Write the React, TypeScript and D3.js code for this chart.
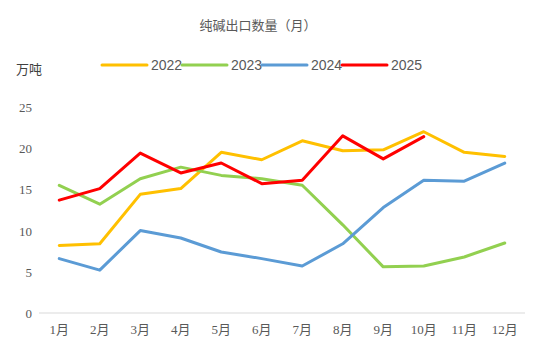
import React from "react";
import * as d3 from "d3";

const months = ["1月", "2月", "3月", "4月", "5月", "6月", "7月", "8月", "9月", "10月", "11月", "12月"];
const s2022 = [8.2, 8.4, 14.4, 15.1, 19.5, 18.6, 20.9, 19.7, 19.8, 22.0, 19.5, 19.0];
const s2023 = [15.5, 13.2, 16.3, 17.7, 16.7, 16.3, 15.5, 10.7, 5.6, 5.7, 6.8, 8.5];
const s2024 = [6.6, 5.2, 10.0, 9.1, 7.4, 6.6, 5.7, 8.4, 12.8, 16.1, 16.0, 18.2];
const s2025 = [13.7, 15.1, 19.4, 17.0, 18.2, 15.7, 16.1, 21.5, 18.7, 21.4];
const yTicks = [0, 5, 10, 15, 20, 25];

const series = [
  { name: "2022", values: s2022, color: "#FFC000" },
  { name: "2023", values: s2023, color: "#92D050" },
  { name: "2024", values: s2024, color: "#5B9BD5" },
  { name: "2025", values: s2025, color: "#FF0000" },
];

const W = 550;
const H = 356;
const FONT = "'Liberation Serif', 'Noto Sans CJK SC', serif";
const CJK = "'Noto Sans CJK SC', sans-serif";

export default function App() {
  const x = d3.scaleBand<string>().domain(months).range([39, 525]);
  const y = d3.scaleLinear().domain([0, 25]).range([313, 107]);
  const cx = (i: number) => (x(months[i]) as number) + x.bandwidth() / 2;
  const line = d3
    .line<number>()
    .x((_, i) => cx(i))
    .y((v) => y(v));

  const legendStart = 102;
  const legendStep = 80;

  return (
    <svg width={W} height={H} style={{ position: "absolute", left: 0, top: 0, background: "#fff" }}>
      <text x={258} y={30} textAnchor="middle" fontFamily={CJK} fontSize={13} fill="#595959">
        纯碱出口数量（月）
      </text>
      <text x={16} y={74} fontFamily={CJK} fontSize={13} fill="#404040">
        万吨
      </text>
      {series.map((s, i) => {
        const lx = legendStart + i * legendStep;
        return (
          <g key={s.name}>
            <line x1={lx} x2={lx + 45} y1={65} y2={65} stroke={s.color} strokeWidth={3} strokeLinecap="round" />
            <text x={lx + 49} y={70} fontFamily="'Liberation Sans', sans-serif" fontSize={14} fill="#595959">
              {s.name}
            </text>
          </g>
        );
      })}
      {yTicks.map((t) => (
        <text key={t} x={32} y={y(t) + 5} textAnchor="end" fontFamily={FONT} fontSize={13} fill="#595959">
          {t}
        </text>
      ))}
      <line x1={39} x2={525} y1={y(0)} y2={y(0)} stroke="#D9D9D9" strokeWidth={1.2} />
      {months.map((m, i) => (
        <text key={m} x={cx(i)} y={334} textAnchor="middle" fontFamily={FONT} fontSize={13} fill="#595959">
          {m}
        </text>
      ))}
      {series.map((s) => (
        <path
          key={s.name}
          d={line(s.values) || ""}
          fill="none"
          stroke={s.color}
          strokeWidth={3}
          strokeLinejoin="round"
          strokeLinecap="round"
        />
      ))}
    </svg>
  );
}
